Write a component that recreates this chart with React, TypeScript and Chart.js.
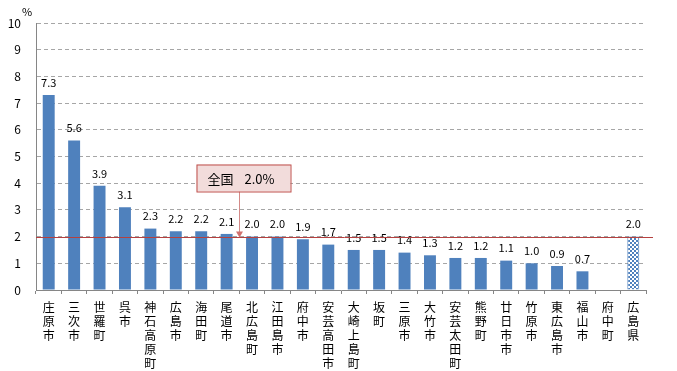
import { useEffect, useRef } from "react";
import { Chart, registerables } from "chart.js";

Chart.register(...registerables);

const categories = [
  "庄原市", "三次市", "世羅町", "呉市", "神石高原町", "広島市", "海田町", "尾道市",
  "北広島町", "江田島市", "府中市", "安芸高田市", "大崎上島町", "坂町", "三原市", "大竹市",
  "安芸太田町", "熊野町", "廿日市市", "竹原市", "東広島市", "福山市", "府中町", "広島県",
];
const rates: (number | null)[] = [
  7.3, 5.6, 3.9, 3.1, 2.3, 2.2, 2.2, 2.1,
  2.0, 2.0, 1.9, 1.7, 1.5, 1.5, 1.4, 1.3,
  1.2, 1.2, 1.1, 1.0, 0.9, 0.7, null, 2.0,
];
const nationalName = "全国";
const nationalRate = 2.0;
const unitLabel = "%";
const yMin = 0;
const yMax = 10;
const yStep = 1;

const FONT = "'Noto Sans CJK JP', 'Noto Sans', sans-serif";
const BLUE = "#4F81BD";

function makePattern(): CanvasPattern | string {
  const c = document.createElement("canvas");
  c.width = 4;
  c.height = 4;
  const g = c.getContext("2d");
  if (!g) return BLUE;
  g.fillStyle = "#ffffff";
  g.fillRect(0, 0, 4, 4);
  g.fillStyle = BLUE;
  g.fillRect(0, 0, 2, 2);
  g.fillRect(2, 2, 2, 2);
  const p = g.createPattern(c, "repeat");
  return p || BLUE;
}

export default function App() {
  const ref = useRef<HTMLCanvasElement>(null);

  useEffect(() => {
    document.body.style.margin = "0";
    const canvas = ref.current;
    if (!canvas) return;
    const pattern = makePattern();
    const lastIdx = categories.length - 1;

    const overlay = {
      id: "overlay",
      afterDatasetsDraw(chart: any) {
        const { ctx, chartArea, scales } = chart;
        const xs = scales.x;
        const ys = scales.y;
        ctx.save();
        // value labels
        const meta = chart.getDatasetMeta(0);
        ctx.font = `11px ${FONT}`;
        ctx.fillStyle = "#000";
        ctx.textAlign = "center";
        ctx.textBaseline = "bottom";
        meta.data.forEach((bar: any, i: number) => {
          const v = rates[i];
          if (v == null) return;
          ctx.fillText(v.toFixed(1), bar.x, bar.y - 7);
        });
        // national line
        const ly = Math.round(ys.getPixelForValue(nationalRate)) + 0.5;
        ctx.strokeStyle = "#B5403F";
        ctx.lineWidth = 1;
        ctx.beginPath();
        ctx.moveTo(chartArea.left, ly);
        ctx.lineTo(chartArea.right + 7, ly);
        ctx.stroke();
        // annotation box + arrow
        const ax = Math.round((xs.getPixelForValue(7) + xs.getPixelForValue(8)) / 2) + 0.5;
        const boxL = ax - 43;
        const boxW = 94;
        const boxB = ly - 46;
        const boxH = 27;
        const boxT = boxB - boxH;
        ctx.strokeStyle = "#D48A88";
        ctx.beginPath();
        ctx.moveTo(ax, boxB);
        ctx.lineTo(ax, ly - 4);
        ctx.stroke();
        ctx.fillStyle = "#D0706E";
        ctx.beginPath();
        ctx.moveTo(ax - 3.5, ly - 6);
        ctx.lineTo(ax + 3.5, ly - 6);
        ctx.lineTo(ax, ly);
        ctx.closePath();
        ctx.fill();
        ctx.fillStyle = "#F2DCDB";
        ctx.fillRect(boxL, boxT, boxW, boxH);
        ctx.strokeStyle = "#C0504D";
        ctx.strokeRect(boxL + 0.5, boxT + 0.5, boxW, boxH);
        ctx.fillStyle = "#000";
        ctx.font = `13px ${FONT}`;
        ctx.textAlign = "left";
        ctx.textBaseline = "middle";
        ctx.fillText(nationalName, boxL + 11, boxT + boxH / 2 + 1);
        ctx.fillText(nationalRate.toFixed(1) + "%", boxL + 48, boxT + boxH / 2 + 1);
        // unit label
        ctx.font = `11px ${FONT}`;
        ctx.textAlign = "center";
        ctx.fillText(unitLabel, 27, 12);
        ctx.restore();
      },
    };

    const chart = new Chart(canvas, {
      type: "bar",
      data: {
        labels: categories.map((c) => c.split("")),
        datasets: [
          {
            data: rates as any,
            backgroundColor: rates.map((_, i) => (i === lastIdx ? pattern : BLUE)) as any,
            borderColor: BLUE,
            borderWidth: rates.map((_, i) => (i === lastIdx ? 1 : 0)),
            categoryPercentage: 1,
            barPercentage: 0.47,
          },
        ],
      },
      options: {
        responsive: false,
        animation: false,
        layout: { padding: { top: 23, right: 31, bottom: 0, left: 0 } },
        plugins: { legend: { display: false }, tooltip: { enabled: false } },
        scales: {
          x: {
            grid: {
              display: true,
              drawOnChartArea: false,
              drawTicks: true,
              tickLength: 4,
              color: "#868686",
              offset: true,
            },
            border: { display: true, color: "#868686", width: 1 },
            ticks: {
              autoSkip: false,
              maxRotation: 0,
              minRotation: 0,
              padding: 6,
              color: "#000",
              font: { family: FONT, size: 12, lineHeight: 1.17 },
            },
            afterFit(scale: any) {
              scale.height = 81;
            },
          },
          y: {
            min: yMin,
            max: yMax,
            grid: {
              drawTicks: false,
              color: (ctx: any) => (ctx.tick && ctx.tick.value === 0 ? "rgba(0,0,0,0)" : "#A6A6A6"),
            },
            border: { display: true, color: "#868686", width: 1, dash: [4, 3] },
            ticks: {
              stepSize: yStep,
              padding: 15,
              color: "#000",
              font: { family: FONT, size: 12 },
            },
            afterFit(scale: any) {
              scale.width = 36;
            },
          },
        },
      },
      plugins: [overlay],
    });

    return () => chart.destroy();
  }, []);

  return (
    <div style={{ width: 677, height: 371 }}>
      <canvas ref={ref} width={677} height={371} style={{ display: "block" }} />
    </div>
  );
}
